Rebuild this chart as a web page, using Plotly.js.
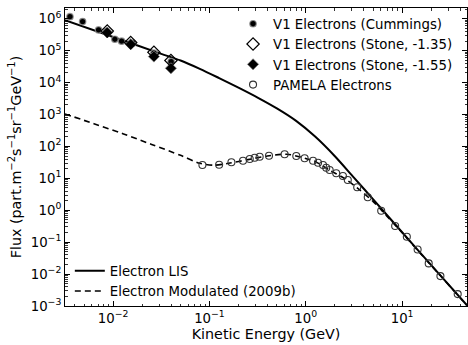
<!DOCTYPE html>
<html>
<head>
<meta charset="utf-8">
<script src="https://cdn.plot.ly/plotly-3.0.1.min.js"></script>
<style>
  html, body { margin: 0; padding: 0; background: #fff; }
  #chart { width: 468px; height: 345px; }
</style>
</head>
<body>
<div id="chart"></div>
<script>
// Electron local interstellar spectrum (LIS): kinetic energy (GeV) and flux
const lisEnergy = [0.00316, 0.01, 0.0316, 0.0501, 0.0794, 0.126, 0.200, 0.316, 0.501, 0.794,
                   1.259, 1.995, 3.162, 5.012, 10, 19.95, 47.2];
const lisFlux   = [8.91e5, 2.66e5, 7.94e4, 4.90e4, 2.69e4, 1.38e4, 6.92e3, 3.39e3, 1.55e3, 631,
                   200, 50.1, 10.5, 2.19, 0.204, 0.0195, 0.00105];

// Modulated electron spectrum (2009b)
const modEnergy = [0.00316, 0.00631, 0.0126, 0.0251, 0.0501, 0.0794, 0.112, 0.158, 0.251, 0.398,
                   0.631, 0.794, 1.0, 1.259, 1.778, 2.512, 3.548, 5.012, 7.079, 10, 15.85, 25.12, 47.2];
const modFlux   = [1040, 513, 251, 115, 52.5, 29.5, 25.7, 29.5, 38.5, 50.1,
                   56.9, 50.1, 41.7, 33.1, 17.8, 10.0, 4.57, 1.86, 0.617, 0.200, 0.0412, 0.00881, 0.00104];

// Voyager 1 electrons (Cummings)
const cumEnergy = [0.00356, 0.00482, 0.00706, 0.00855, 0.01042, 0.01224, 0.0159, 0.0265, 0.0400];
const cumFlux   = [1.16e6, 8.1e5, 4.45e5, 3.95e5, 2.27e5, 1.97e5, 1.71e5, 8.3e4, 4.5e4];

// Voyager 1 electrons (Stone), spectral index -1.35 and -1.55
const stoneEnergy = [0.00868, 0.0152, 0.0265, 0.0398];
const stone135    = [4.1e5, 1.78e5, 8.9e4, 4.9e4];
const stone155    = [3.7e5, 1.58e5, 6.5e4, 2.8e4];

// PAMELA electrons
const pamEnergy = [0.0845, 0.126, 0.169, 0.223, 0.262, 0.295, 0.332, 0.415, 0.603, 0.797,
                   0.973, 1.19, 1.34, 1.51, 1.63, 1.77, 2.07, 2.43, 2.73, 3.42,
                   4.40, 6.07, 8.47, 11.2, 14.5, 18.9, 25.0, 37.8];
const pamFlux   = [26.0, 26.5, 31.8, 35.6, 40.3, 44.2, 47.6, 51.1, 56.5, 50.0,
                   42.4, 35.6, 30.8, 26.1, 21.5, 18.2, 14.4, 11.8, 8.85, 5.22,
                   2.54, 0.966, 0.32, 0.148, 0.059, 0.0216, 0.00865, 0.00236];

// Decade tick positions and their labels
const xTickVals = [0.01, 0.1, 1, 10];
const xTickText = ['10<sup>−2</sup>', '10<sup>−1</sup>', '10<sup>0</sup>', '10<sup>1</sup>'];
const yTickVals = [1e-3, 1e-2, 1e-1, 1, 10, 1e2, 1e3, 1e4, 1e5, 1e6];
const yTickText = ['10<sup>−3</sup>', '10<sup>−2</sup>', '10<sup>−1</sup>', '10<sup>0</sup>', '10<sup>1</sup>',
                   '10<sup>2</sup>', '10<sup>3</sup>', '10<sup>4</sup>', '10<sup>5</sup>', '10<sup>6</sup>'];

const FONT = '"DejaVu Sans", sans-serif';

const traces = [
  { x: lisEnergy, y: lisFlux, name: 'Electron LIS', mode: 'lines', legend: 'legend2',
    line: { color: '#000', width: 2, shape: 'spline', smoothing: 0.8 } },
  { x: modEnergy, y: modFlux, name: 'Electron Modulated (2009b)', mode: 'lines', legend: 'legend2',
    line: { color: '#000', width: 1.6, dash: '6px,4px', shape: 'spline', smoothing: 0.8 } },
  { x: cumEnergy, y: cumFlux, name: 'V1 Electrons (Cummings)', mode: 'markers', legend: 'legend',
    legendrank: 1,
    marker: { symbol: 'circle', size: 6.5, color: '#000', line: { color: 'rgba(140,140,140,0.8)', width: 1.2 } } },
  { x: stoneEnergy, y: stone155, name: 'V1 Electrons (Stone, -1.55)', mode: 'markers', legend: 'legend',
    legendrank: 3,
    marker: { symbol: 'diamond', size: 8.5, color: '#000', line: { color: 'rgba(120,120,120,0.8)', width: 1 } } },
  { x: stoneEnergy, y: stone135, name: 'V1 Electrons (Stone, -1.35)', mode: 'markers', legend: 'legend',
    legendrank: 2,
    marker: { symbol: 'diamond-open', size: 9.5, color: '#000', line: { color: '#000', width: 1.2 } } },
  { x: pamEnergy, y: pamFlux, name: 'PAMELA Electrons', mode: 'markers', legend: 'legend',
    legendrank: 4,
    marker: { symbol: 'circle-open', size: 7, color: '#333', line: { color: '#333', width: 1.1 } } }
];

const axisCommon = {
  type: 'log', tickmode: 'array',
  showline: true, linecolor: '#000', linewidth: 1, mirror: 'ticks',
  ticks: 'inside', ticklen: 5, tickwidth: 1, tickcolor: '#000',
  showgrid: false, zeroline: false,
  tickfont: { family: FONT, size: 13.3, color: '#000' },
  minor: { ticks: 'inside', ticklen: 2.5, tickwidth: 0.8, tickcolor: '#000', dtick: 'D1', showgrid: false }
};

const layout = {
  width: 468, height: 345,
  margin: { l: 65, r: 1, t: 8, b: 39 },
  paper_bgcolor: '#fff', plot_bgcolor: '#fff',
  font: { family: FONT, size: 13.3, color: '#000' },
  showlegend: true,
  xaxis: Object.assign({}, axisCommon, {
    range: [-2.5, 1.674], tickvals: xTickVals, ticktext: xTickText,
    title: { text: 'Kinetic Energy (GeV)', font: { family: FONT, size: 14.3 }, standoff: 2 }
  }),
  yaxis: Object.assign({}, axisCommon, {
    range: [-3, 6.335], tickvals: yTickVals, ticktext: yTickText,
    title: { text: 'Flux (part.m<sup>−2</sup>s<sup>−1</sup>sr<sup>−1</sup>GeV<sup>−1</sup>)',
             font: { family: FONT, size: 14.3 }, standoff: 5 }
  }),
  legend: {
    x: 0.418, y: 0.998, xanchor: 'left', yanchor: 'top',
    bgcolor: 'rgba(0,0,0,0)', borderwidth: 0,
    font: { family: FONT, size: 13.3, color: '#000' }
  },
  legend2: {
    x: 0.012, y: -0.002, xanchor: 'left', yanchor: 'bottom',
    bgcolor: 'rgba(0,0,0,0)', borderwidth: 0,
    font: { family: FONT, size: 13.3, color: '#000' }
  }
};

Plotly.newPlot('chart', traces, layout, { displayModeBar: false, staticPlot: true });
</script>
</body>
</html>
